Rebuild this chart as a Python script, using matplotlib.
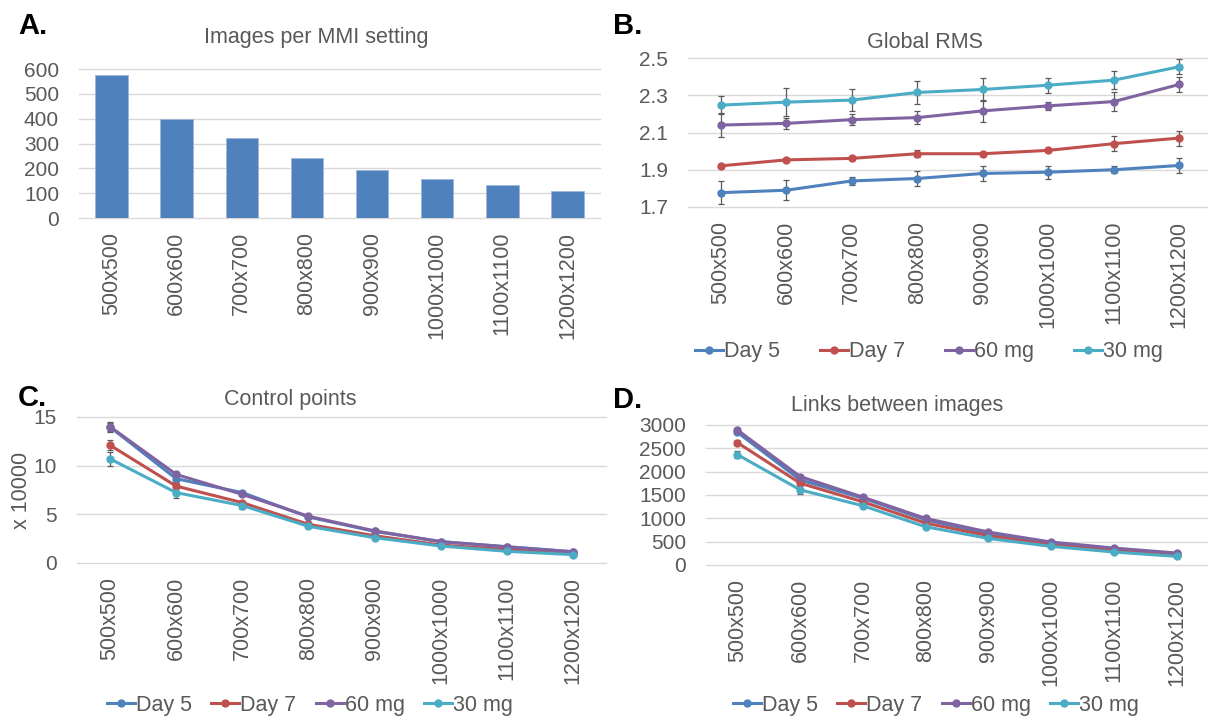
import numpy as np
import matplotlib
matplotlib.use("Agg")
import matplotlib.pyplot as plt

plt.rcParams['font.family'] = ['Liberation Sans', 'DejaVu Sans']

# image sizes (categories)
sizes = ["500x500", "600x600", "700x700", "800x800", "900x900",
         "1000x1000", "1100x1100", "1200x1200"]

# A. images per MMI setting
images = [577, 400, 323, 240, 195, 156, 131, 109]

# B. global RMS
rms_day5 = [1.777, 1.790, 1.840, 1.853, 1.880, 1.887, 1.900, 1.923]
rms_day7 = [1.921, 1.953, 1.961, 1.986, 1.986, 2.004, 2.040, 2.070]
rms_60mg = [2.140, 2.149, 2.169, 2.180, 2.216, 2.243, 2.266, 2.358]
rms_30mg = [2.247, 2.263, 2.274, 2.315, 2.331, 2.354, 2.381, 2.453]
rms_day5_err = [0.060, 0.055, 0.020, 0.040, 0.040, 0.035, 0.020, 0.040]
rms_day7_err = [0.010, 0.010, 0.010, 0.020, 0.010, 0.010, 0.040, 0.040]
rms_60mg_err = [0.065, 0.030, 0.030, 0.035, 0.060, 0.020, 0.050, 0.040]
rms_30mg_err = [0.050, 0.075, 0.060, 0.060, 0.060, 0.040, 0.050, 0.040]

# C. control points (x 10000)
cp_day5 = [13.97, 8.66, 7.23, 4.73, 3.25, 2.19, 1.68, 1.16]
cp_day7 = [12.1, 7.9, 6.2, 3.97, 2.8, 1.85, 1.37, 0.96]
cp_60mg = [14.0, 9.1, 7.05, 4.8, 3.3, 2.2, 1.65, 1.15]
cp_30mg = [10.7, 7.23, 5.9, 3.77, 2.6, 1.75, 1.2, 0.86]
cp_day5_err = [0.4, 0.3, 0.2, 0.15, 0.1, 0.1, 0.05, 0.05]
cp_day7_err = [0.5, 0.3, 0.2, 0.15, 0.1, 0.1, 0.05, 0.05]
cp_60mg_err = [0.5, 0.3, 0.2, 0.15, 0.1, 0.1, 0.05, 0.05]
cp_30mg_err = [0.7, 0.6, 0.4, 0.2, 0.1, 0.1, 0.05, 0.05]

# D. links between images
ln_day5 = [2843, 1824, 1432, 969, 670, 470, 342, 242]
ln_day7 = [2623, 1753, 1354, 898, 627, 428, 314, 221]
ln_60mg = [2893, 1896, 1454, 998, 706, 492, 363, 257]
ln_30mg = [2366, 1611, 1269, 820, 570, 399, 278, 185]
ln_day5_err = [40, 40, 30, 20, 15, 10, 10, 5]
ln_day7_err = [60, 40, 30, 20, 15, 10, 10, 5]
ln_60mg_err = [40, 40, 30, 20, 15, 10, 10, 5]
ln_30mg_err = [80, 80, 40, 20, 15, 10, 10, 5]

series_names = ["Day 5", "Day 7", "60 mg", "30 mg"]
colors = ["#4f81bd", "#c0504d", "#8064a2", "#4bacc6"]
text_gray = "#595959"
grid_gray = "#d9d9d9"
fs = 15.5

W, H = 1208, 720
fig = plt.figure(figsize=(W / 100, H / 100), dpi=100)


def make_axes(left, right, top, bottom):
    return fig.add_axes([left / W, 1 - bottom / H, (right - left) / W, (bottom - top) / H])


def style(ax, ylim, yticks, fmt):
    x = np.arange(len(sizes))
    ax.set_xlim(-0.5, len(sizes) - 0.5)
    ax.set_ylim(*ylim)
    ax.set_yticks(yticks)
    ax.set_yticklabels([fmt.format(v) for v in yticks])
    ax.set_xticks(x)
    ax.set_xticklabels(sizes, rotation=90)
    ax.tick_params(length=0, labelsize=fs, colors=text_gray)
    ax.tick_params(axis='y', pad=14.4, labelsize=15)
    ax.tick_params(axis='x', pad=10)
    for s in ax.spines.values():
        s.set_visible(False)
    for y in yticks:
        ax.axhline(y, color=grid_gray, lw=1, zorder=0, clip_on=False)


def line_panel(ax, data, errs):
    x = np.arange(len(sizes))
    for name, vals, err, c in zip(series_names, data, errs, colors):
        ax.errorbar(x, vals, yerr=err, color=c, lw=2.2, marker='o', ms=5,
                    ecolor='#595959', elinewidth=0.9, capsize=2, capthick=0.9,
                    label=name, zorder=3)


# A
axA = make_axes(79, 600, 69, 218)
axA.bar(np.arange(len(sizes)), images, width=0.5, color="#4f81bd",
        edgecolor="#9db6da", lw=0.6, zorder=3)
style(axA, (0, 600), [0, 100, 200, 300, 400, 500, 600], "{:d}")

# B
axB = make_axes(688, 1212, 58, 207)
line_panel(axB, [rms_day5, rms_day7, rms_60mg, rms_30mg],
           [rms_day5_err, rms_day7_err, rms_60mg_err, rms_30mg_err])
style(axB, (1.7, 2.5), [1.7, 1.9, 2.1, 2.3, 2.5], "{:.1f}")

# C
axC = make_axes(77, 606, 417, 563)
line_panel(axC, [cp_day5, cp_day7, cp_60mg, cp_30mg],
           [cp_day5_err, cp_day7_err, cp_60mg_err, cp_30mg_err])
style(axC, (0, 15), [0, 5, 10, 15], "{:d}")
axC.set_ylabel("x 10000", fontsize=fs, color=text_gray, labelpad=1)

# D
axD = make_axes(706, 1208, 425, 565)
line_panel(axD, [ln_day5, ln_day7, ln_60mg, ln_30mg],
           [ln_day5_err, ln_day7_err, ln_60mg_err, ln_30mg_err])
style(axD, (0, 3000), [0, 500, 1000, 1500, 2000, 2500, 3000], "{:d}")

# chart titles
for title, x, y in [("Images per MMI setting", 316, 38), ("Global RMS", 925, 42),
                    ("Control points", 290, 400), ("Links between images", 897, 405)]:
    fig.text(x / W, 1 - y / H, title, fontsize=fs, color=text_gray,
             ha='center', va='center')

# legends below line panels
for ax, cx, y, cs in [(axB, 929, 352, 1.85), (axC, 310, 705, 0.9), (axD, 936, 705, 0.9)]:
    h, l = ax.get_legend_handles_labels()
    h = [hh[0] for hh in h]
    leg = fig.legend(h, l, loc='center', ncol=4, frameon=False,
                     bbox_to_anchor=(cx / W, 1 - y / H),
                     fontsize=fs, handlelength=1.3, handletextpad=0.05,
                     columnspacing=cs)
    for t in leg.get_texts():
        t.set_color(text_gray)

# panel letters
for letter, x, y in [("A.", 18, 26), ("B.", 613, 26), ("C.", 18, 398), ("D.", 613, 400)]:
    fig.text(x / W, 1 - y / H, letter, fontsize=21, fontweight='bold', va='center', ha='left')

fig.savefig("out.png", dpi=100)
